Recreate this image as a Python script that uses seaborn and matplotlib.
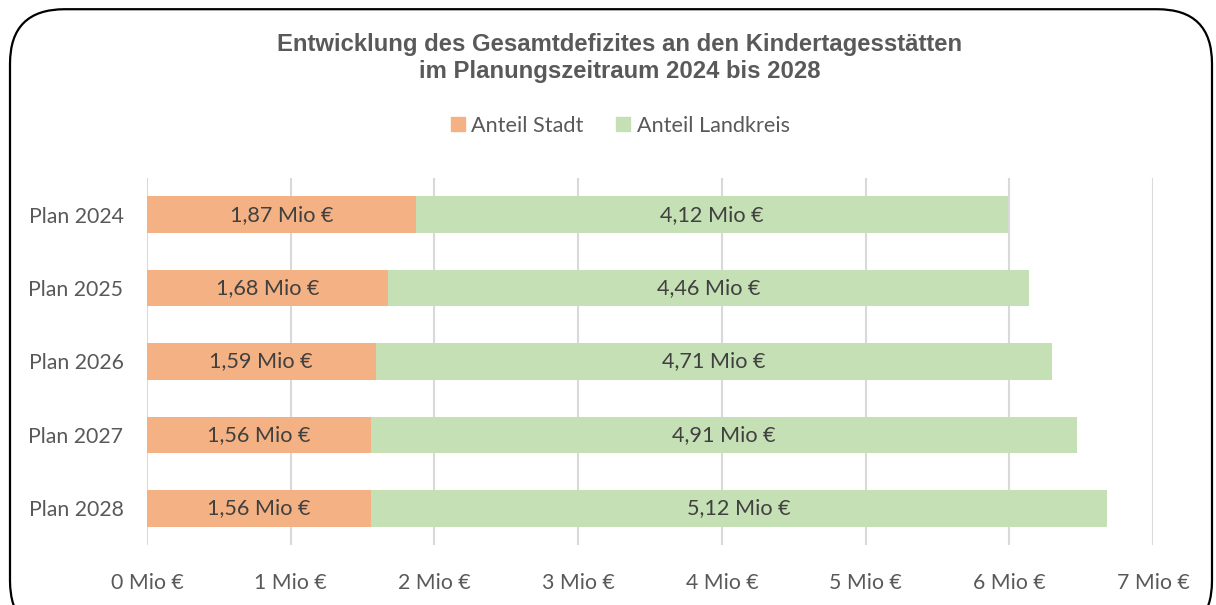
import matplotlib
matplotlib.use("Agg")
import matplotlib.pyplot as plt
import seaborn as sns
import pandas as pd
from matplotlib.patches import FancyBboxPatch, Patch

years = ["Plan 2024", "Plan 2025", "Plan 2026", "Plan 2027", "Plan 2028"]
anteil_stadt = [1.87, 1.68, 1.59, 1.56, 1.56]
anteil_landkreis = [4.12, 4.46, 4.71, 4.91, 5.12]
xticks = [0, 1, 2, 3, 4, 5, 6, 7]

df = pd.DataFrame({"Jahr": years, "Stadt": anteil_stadt, "Landkreis": anteil_landkreis})
df["Gesamt"] = df["Stadt"] + df["Landkreis"]

orange = "#F4B183"
green = "#C5E0B4"
txt = "#404040"
grey = "#595959"

sns.set_style("white")
plt.rcParams["font.family"] = ["Lato", "DejaVu Sans"]

fig = plt.figure(figsize=(12.16, 6.05), dpi=100)
ax = fig.add_axes([0.1209, 0.0992, 0.8273, 0.6066])

sns.barplot(data=df, y="Jahr", x="Gesamt", color=green, orient="h", width=0.5,
            linewidth=0, saturation=1, ax=ax, zorder=3)
sns.barplot(data=df, y="Jahr", x="Stadt", color=orange, orient="h", width=0.5,
            linewidth=0, saturation=1, ax=ax, zorder=4)

for i, row in df.iterrows():
    ax.text(row["Stadt"] / 2, i, f"{row['Stadt']:.2f} Mio €".replace(".", ","),
            ha="center", va="center", fontsize=15.6, color=txt, zorder=5)
    ax.text(row["Stadt"] + row["Landkreis"] / 2, i,
            f"{row['Landkreis']:.2f} Mio €".replace(".", ","),
            ha="center", va="center", fontsize=15.6, color=txt, zorder=5)

ax.set_xlim(0, 7)
ax.set_ylim(4.5, -0.5)
ax.set_xticks(xticks)
ax.set_xticklabels([f"{t} Mio €" for t in xticks], fontsize=15.3, color=grey)
ax.tick_params(axis="y", labelsize=15.3, labelcolor=grey, length=0, pad=17)
ax.tick_params(axis="x", length=0, pad=20)
ax.set_xlabel("")
ax.set_ylabel("")
ax.grid(axis="x", color="#D9D9D9", linewidth=1.5, zorder=0)
ax.grid(axis="y", visible=False)
for s in ax.spines.values():
    s.set_visible(False)

fig.text(0.5095, 0.904, "Entwicklung des Gesamtdefizites an den Kindertagesstätten\nim Planungszeitraum 2024 bis 2028",
         ha="center", va="center", fontsize=17.2, fontweight="bold", color=grey,
         family=["Liberation Sans", "DejaVu Sans"], linespacing=1.2)

handles = [Patch(color=orange, label="Anteil Stadt"), Patch(color=green, label="Anteil Landkreis")]
fig.legend(handles=handles, loc="center", bbox_to_anchor=(0.51, 0.792), ncol=2, frameon=False,
           fontsize=15.6, handlelength=0.65, handleheight=0.65, handletextpad=0.3, columnspacing=1.5,
           labelcolor=grey)

border = FancyBboxPatch((10 / 1216, -0.05), 1202 / 1216, (605 - 8) / 605 + 0.05 - 0.002,
                        boxstyle="round,pad=0,rounding_size=0.045", transform=fig.transFigure,
                        facecolor="none", edgecolor="black", linewidth=1.6, mutation_aspect=2.0)
fig.patches.append(border)

fig.savefig("out.png", dpi=100)
